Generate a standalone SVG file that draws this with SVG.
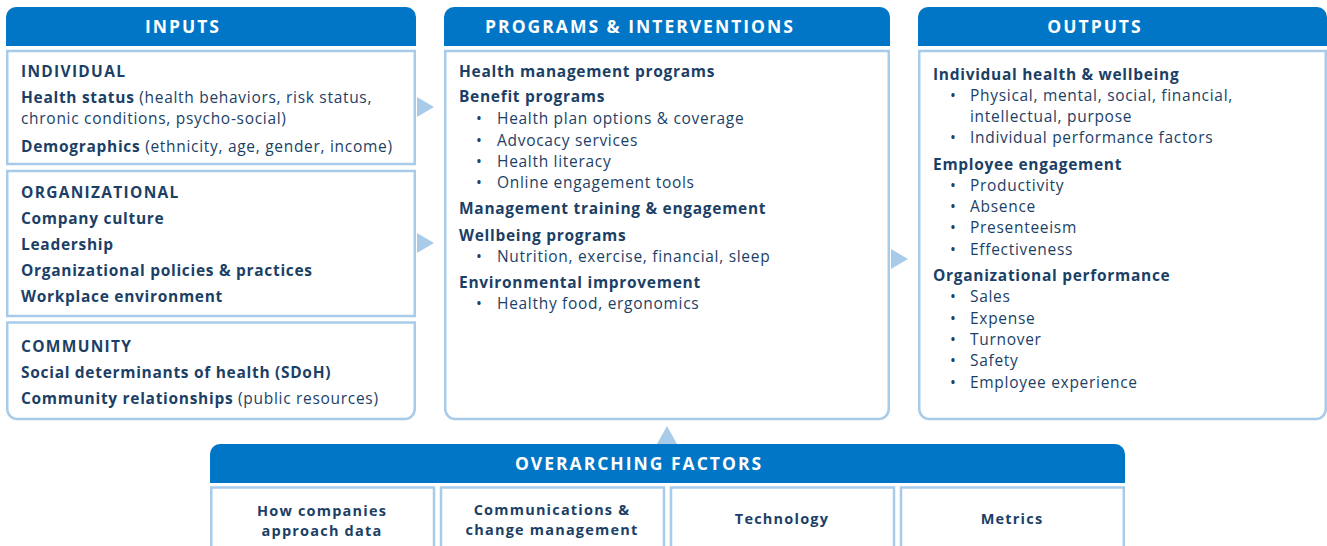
<svg xmlns="http://www.w3.org/2000/svg" width="1327" height="546" viewBox="0 0 1327 546">
<style>
.hd{fill:#0176c6}
.bx{fill:#fff;stroke:#a9cbea;stroke-width:2.5}
.ar{fill:#a9cbea}
text{font-family:"Open Sans","Liberation Sans",sans-serif;fill:#1c3f66;font-size:15.5px;letter-spacing:0.7px}
.ht{fill:#fff;font-weight:bold;font-size:17.5px;letter-spacing:2px;text-anchor:middle}
.b{font-weight:bold}
.cap{font-weight:bold;letter-spacing:1.3px}
.c{text-anchor:middle;font-weight:bold;font-size:14.5px;letter-spacing:1.2px}
</style>
<rect width="1327" height="546" fill="#fff"/>
<g id="connectors">
<polygon class="ar" points="417,97 434,107 417,117"/>
<polygon class="ar" points="417,233 434,243 417,253"/>
<polygon class="ar" points="891,249 908,259 891,269"/>
<polygon class="ar" points="657,444 667,426 677,444"/>
</g>
<g id="inputs">
<path class="hd" d="M6,46 V17 A10,10 0 0 1 16,7 H406 A10,10 0 0 1 416,17 V46 Z"/>
<text class="ht" x="183" y="33">INPUTS</text>
</g>
<g id="individual">
<rect class="bx" x="7.25" y="51" width="407.5" height="113"/>
<text class="cap" x="21" y="77">INDIVIDUAL</text>
<text x="21" y="103"><tspan class="b">Health status</tspan> (health behaviors, risk status,</text>
<text x="21" y="124">chronic conditions, psycho-social)</text>
<text x="21" y="152"><tspan class="b">Demographics</tspan> (ethnicity, age, gender, income)</text>
</g>
<g id="organizational">
<rect class="bx" x="7.25" y="171" width="407.5" height="145"/>
<text class="cap" x="21" y="198">ORGANIZATIONAL</text>
<text class="b" x="21" y="224">Company culture</text>
<text class="b" x="21" y="250">Leadership</text>
<text class="b" x="21" y="276">Organizational policies &amp; practices</text>
<text class="b" x="21" y="302">Workplace environment</text>
</g>
<g id="community">
<path class="bx" d="M7.25,322.5 H414.75 V409 A10,10 0 0 1 404.75,419 H17.25 A10,10 0 0 1 7.25,409 Z"/>
<text class="cap" x="21" y="352">COMMUNITY</text>
<text class="b" x="21" y="378">Social determinants of health (SDoH)</text>
<text x="21" y="404"><tspan class="b">Community relationships</tspan> (public resources)</text>
</g>
<g id="programs">
<path class="hd" d="M444,46 V17 A10,10 0 0 1 454,7 H880 A10,10 0 0 1 890,17 V46 Z"/>
<text class="ht" x="640" y="33">PROGRAMS &amp; INTERVENTIONS</text>
<path class="bx" d="M445.25,51 H888.75 V409 A10,10 0 0 1 878.75,419 H455.25 A10,10 0 0 1 445.25,409 Z"/>
<text class="b" x="459" y="77">Health management programs</text>
<text class="b" x="459" y="102">Benefit programs</text>
<text x="476" y="124">•</text><text x="497" y="124">Health plan options &amp; coverage</text>
<text x="476" y="146">•</text><text x="497" y="146">Advocacy services</text>
<text x="476" y="167">•</text><text x="497" y="167">Health literacy</text>
<text x="476" y="188">•</text><text x="497" y="188">Online engagement tools</text>
<text class="b" x="459" y="214">Management training &amp; engagement</text>
<text class="b" x="459" y="241">Wellbeing programs</text>
<text x="476" y="262">•</text><text x="497" y="262">Nutrition, exercise, financial, sleep</text>
<text class="b" x="459" y="288">Environmental improvement</text>
<text x="476" y="309">•</text><text x="497" y="309">Healthy food, ergonomics</text>
</g>
<g id="outputs">
<path class="hd" d="M918,46 V17 A10,10 0 0 1 928,7 H1317 A10,10 0 0 1 1327,17 V46 Z"/>
<text class="ht" x="1095" y="33">OUTPUTS</text>
<path class="bx" d="M919.25,51 H1325.75 V409 A10,10 0 0 1 1315.75,419 H929.25 A10,10 0 0 1 919.25,409 Z"/>
<text class="b" x="933" y="80">Individual health &amp; wellbeing</text>
<text x="950" y="101">•</text><text x="970" y="101">Physical, mental, social, financial,</text>
<text x="970" y="122">intellectual, purpose</text>
<text x="950" y="143">•</text><text x="970" y="143">Individual performance factors</text>
<text class="b" x="933" y="170">Employee engagement</text>
<text x="950" y="191">•</text><text x="970" y="191">Productivity</text>
<text x="950" y="212">•</text><text x="970" y="212">Absence</text>
<text x="950" y="233">•</text><text x="970" y="233">Presenteeism</text>
<text x="950" y="255">•</text><text x="970" y="255">Effectiveness</text>
<text class="b" x="933" y="281">Organizational performance</text>
<text x="950" y="302">•</text><text x="970" y="302">Sales</text>
<text x="950" y="324">•</text><text x="970" y="324">Expense</text>
<text x="950" y="345">•</text><text x="970" y="345">Turnover</text>
<text x="950" y="366">•</text><text x="970" y="366">Safety</text>
<text x="950" y="388">•</text><text x="970" y="388">Employee experience</text>
</g>
<g id="overarching">
<path class="hd" d="M210,483 V454 A10,10 0 0 1 220,444 H1115 A10,10 0 0 1 1125,454 V483 Z"/>
<text class="ht" x="639" y="470">OVERARCHING FACTORS</text>
</g>
<g id="f1">
<path class="bx" d="M211.25,560 V487.5 H434 V560"/>
<text class="c" x="322" y="516">How companies</text>
<text class="c" x="322" y="536">approach data</text>
</g>
<g id="f2">
<path class="bx" d="M441,560 V487.5 H664 V560"/>
<text class="c" x="552" y="515">Communications &amp;</text>
<text class="c" x="552" y="535">change management</text>
</g>
<g id="f3">
<path class="bx" d="M671,560 V487.5 H894 V560"/>
<text class="c" x="782" y="524">Technology</text>
</g>
<g id="f4">
<path class="bx" d="M901,560 V487.5 H1123.75 V560"/>
<text class="c" x="1012" y="524">Metrics</text>
</g>
</svg>
